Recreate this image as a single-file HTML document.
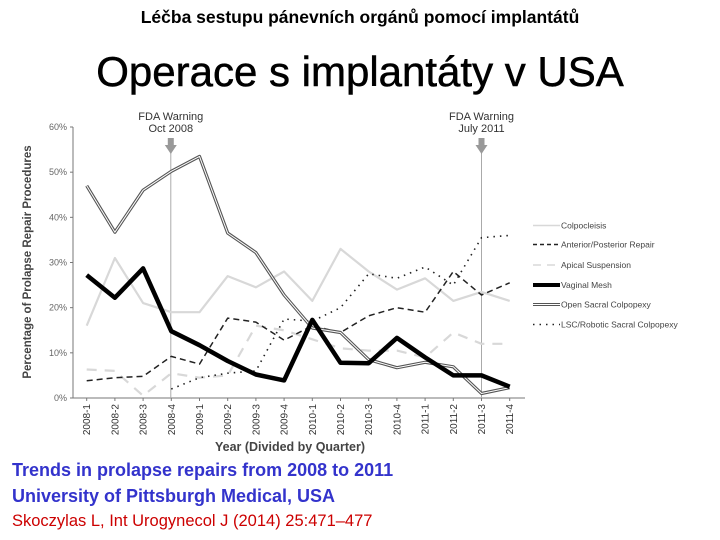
<!DOCTYPE html>
<html><head><meta charset="utf-8"><style>
body{margin:0;width:720px;height:540px;background:#fff;overflow:hidden;font-family:"Liberation Sans",sans-serif;position:relative}
.t{position:absolute;white-space:nowrap}
</style></head><body>
<div class="t" style="left:0;width:720px;text-align:center;top:7px;font-size:17.5px;font-weight:bold;">Léčba sestupu pánevních orgánů pomocí implantátů</div>
<div class="t" style="left:0;width:720px;text-align:center;top:48px;font-size:42px;-webkit-text-stroke:0.5px #000;">Operace s implantáty v USA</div>
<svg id="chart" width="720" height="540" style="position:absolute;left:0;top:0"></svg>
<div class="t" style="left:12px;top:460px;font-size:18px;font-weight:bold;color:#3333cc">Trends in prolapse repairs from 2008 to 2011</div>
<div class="t" style="left:12px;top:486px;font-size:18px;font-weight:bold;color:#3333cc">University of Pittsburgh Medical, USA</div>
<div class="t" style="left:12px;top:512px;font-size:16.5px;color:#cc0000">Skoczylas L, Int Urogynecol J (2014) 25:471–477</div>
<script>
const categories=["2008-1","2008-2","2008-3","2008-4","2009-1","2009-2","2009-3","2009-4","2010-1","2010-2","2010-3","2010-4","2011-1","2011-2","2011-3","2011-4"];
const yTicks=[0,10,20,30,40,50,60];
const colpocleisis=[16,31,21,19,19,27,24.5,28,21.5,33,28,24,26.5,21.5,23.5,21.5];
const antPost=[3.8,4.5,4.8,9.2,7.5,17.7,16.8,12.8,16,14.5,18.2,20,19,28,22.8,25.5];
const apical=[6.3,6,0.5,5.5,4.5,5,16,15,13,11,10.5,10.5,9,14.5,12,12];
const vaginalMesh=[27.2,22.2,28.7,14.8,11.7,8.2,5.2,3.9,17.3,7.8,7.7,13.3,9,5,5,2.5];
const openSacral=[47,36.7,46,50.2,53.5,36.5,32.2,22.8,15.5,14.5,8.5,6.7,7.9,6.9,1,2.3];
const lscRobotic=[null,null,null,2,4.5,5.5,6,17.5,17,20,27.5,26.5,29,25,35.5,36];
const legendLabels=["Colpocleisis","Anterior/Posterior Repair","Apical Suspension","Vaginal Mesh","Open Sacral Colpopexy","LSC/Robotic Sacral Colpopexy"];
const warnings=[{i:3,l1:"FDA Warning",l2:"Oct 2008"},{i:14,l1:"FDA Warning",l2:"July 2011"}];

const svg=document.getElementById('chart');const NS='http://www.w3.org/2000/svg';
const X0=86.7,XS=28.2,Y0=398,YPX=(398-127)/60;
const xs=i=>X0+i*XS, ys=v=>Y0-v*YPX;
function mk(tag,attrs,parent){const e=document.createElementNS(NS,tag);for(const k in attrs)e.setAttribute(k,attrs[k]);(parent||svg).appendChild(e);return e;}
let ax=mk('line',{x1:73,y1:Y0,x2:525,y2:Y0,stroke:'#777','stroke-width':1});


let ay=mk('line',{x1:73,y1:Y0,x2:73,y2:127,stroke:'#777','stroke-width':1});


yTicks.forEach(v=>{
 let t=mk('text',{x:67,y:ys(v)+3,'text-anchor':'end','font-size':9,fill:'#666'});t.textContent=v+'%';
 
 
 mk('line',{x1:70,y1:ys(v),x2:73,y2:ys(v),stroke:'#777'});
});
categories.forEach((c,i)=>{
 let t=mk('text',{x:0,y:0,'text-anchor':'end','font-size':10,fill:'#333',transform:`translate(${xs(i)+3.5},${Y0+6}) rotate(-90)`});t.textContent=c;
 
 
 mk('line',{x1:xs(i),y1:Y0,x2:xs(i),y2:Y0+3,stroke:'#777'});
});
let xt=mk('text',{x:290,y:451,'text-anchor':'middle','font-size':12.5,'font-weight':'bold',fill:'#444'});xt.textContent='Year (Divided by Quarter)';


let yt=mk('text',{x:0,y:0,'text-anchor':'middle','font-size':11.5,'font-weight':'bold',fill:'#444',transform:'translate(31,262) rotate(-90)'});yt.textContent='Percentage of Prolapse Repair Procedures';


warnings.forEach(w=>{
 const x=xs(w.i)+(w.i===3?-0.5:0);
 let l=mk('line',{x1:x,y1:150,x2:x,y2:Y0,stroke:'#aaa','stroke-width':1});
 
 
 mk('polygon',{points:`${x-3},138 ${x+3},138 ${x+3},145 ${x+6},145 ${x},154 ${x-6},145 ${x-3},145`,fill:'#999'});
 let a=mk('text',{x:x,y:120,'text-anchor':'middle','font-size':11,fill:'#333'});a.textContent=w.l1;
 
 
 let b=mk('text',{x:x,y:132,'text-anchor':'middle','font-size':11,fill:'#333'});b.textContent=w.l2;
 
 
});
function pathOf(arr){let d='',pen=false;arr.forEach((v,i)=>{if(v===null){pen=false;return;}d+=(pen?'L':'M')+xs(i).toFixed(1)+','+ys(v).toFixed(1);pen=true;});return d;}
const styles=[
 {data:colpocleisis,stroke:'#d8d8d8',w:2.2,dash:null,name:'series-colpocleisis'},
 {data:apical,stroke:'#d8d8d8',w:2.2,dash:'10,8',name:'series-apical-suspension'},
 {data:lscRobotic,stroke:'#222',w:1.6,dash:'1.5,5',name:'series-lsc-robotic'},
 {data:antPost,stroke:'#222',w:1.5,dash:'6,4',name:'series-anterior-posterior'},
 {data:openSacral,stroke:'#555',w:3.2,dash:null,name:'series-open-sacral',inner:true},
 {data:vaginalMesh,stroke:'#000',w:4.5,dash:null,name:'series-vaginal-mesh'},
];
styles.forEach(s=>{
 let p=mk('path',{d:pathOf(s.data),fill:'none',stroke:s.stroke,'stroke-width':s.w,'stroke-linejoin':'round'});
 if(s.dash)p.setAttribute('stroke-dasharray',s.dash);
 
 
 if(s.inner){mk('path',{d:pathOf(s.data),fill:'none',stroke:'#fff','stroke-width':1,'stroke-linejoin':'round'});}
});
const leg=[{stroke:'#d8d8d8',w:1.5,dash:null},{stroke:'#222',w:1.5,dash:'4,3'},{stroke:'#d8d8d8',w:1.5,dash:'8,6'},{stroke:'#000',w:4,dash:null},{stroke:'#555',w:3,dash:null,inner:true},{stroke:'#222',w:1.5,dash:'1.5,5'}];
const legY=[225.5,244.5,265,285,304.5,324.5];
legendLabels.forEach((lab,i)=>{
 const g=mk('g',{});
 
 
 let l=mk('line',{x1:533,y1:legY[i],x2:560,y2:legY[i],stroke:leg[i].stroke,'stroke-width':leg[i].w},g);
 if(leg[i].dash)l.setAttribute('stroke-dasharray',leg[i].dash);
 if(leg[i].inner)mk('line',{x1:533,y1:legY[i],x2:560,y2:legY[i],stroke:'#fff','stroke-width':1},g);
 let t=mk('text',{x:561,y:legY[i]+3,'font-size':8.5,fill:'#444'},g);t.textContent=lab;
});
</script>
</body></html>
